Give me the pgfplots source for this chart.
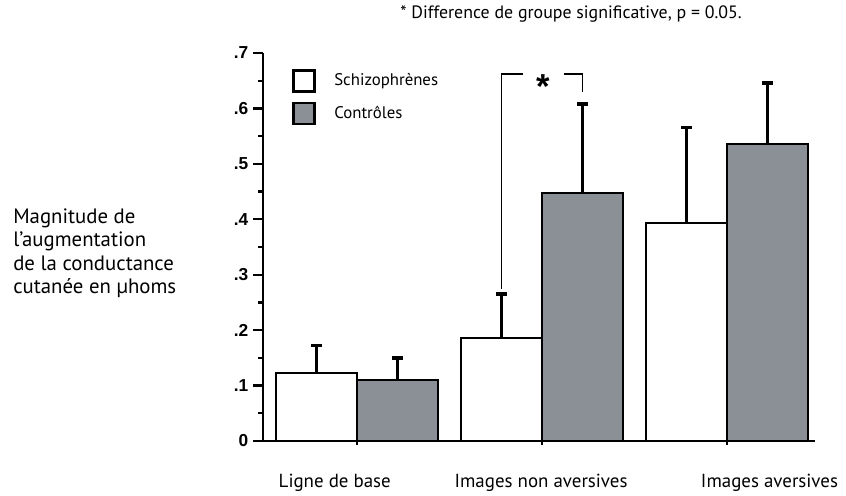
\documentclass[border=0pt]{standalone}
\usepackage{pgfplots}
\pgfplotsset{compat=1.18}
\usepackage{fontspec}
\setmainfont{PT Sans}
\newfontfamily\tickfont{Liberation Sans}
\definecolor{bargray}{RGB}{139,144,151}
\def\u{0.75pt}

\begin{document}
\begin{tikzpicture}
\path[use as bounding box] (0,0) rectangle ({846*\u},{-496*\u});

\begin{axis}[
    at={({263*\u},{-441*\u})}, anchor=south west,
    scale only axis, width={552*\u}, height={388*\u},
    xmin=-0.508, xmax=2.476, ymin=0, ymax=0.7,
    axis lines=left, axis line style={-, line width=2.2pt},
    clip=false,
    xtick={0,1,2}, xticklabels={},
    xtick style={/pgfplots/major tick length=3pt},
    ytick={0,0.1,0.2,0.3,0.4,0.5,0.6,0.7},
    yticklabels={0,.1,.2,.3,.4,.5,.6,.7},
    minor ytick={0.05,0.15,0.25,0.35,0.45,0.55,0.65},
    tick align=outside,
    major tick length={10*\u}, minor tick length={5*\u},
    tick style={black, line width=1.8pt},
    yticklabel style={font=\tickfont\bfseries\fontsize{13}{13}\selectfont},
    legend style={at={(0.0525,0.959)}, anchor=north west, draw=none, fill=none,
        inner sep=0pt, row sep=6.75pt, column sep=14pt,
        nodes={inner sep=0pt}, font=\fontsize{12.6}{12.6}\selectfont},
    legend cell align=left,
    legend image code/.code={\draw[#1, line width=1.8pt] (0pt,-7.9pt) rectangle (15.75pt,7.9pt);},
    error bars/error bar style={line width=1.8pt, black},
    error bars/error mark options={rotate=90, line width=2.6pt, mark size=4pt, black},
]

% blanc : schizophrenes, gris : controles
\addplot[ybar, bar width=0.438, bar shift=0pt, fill=white, draw=black, line width=1.6pt,
    error bars/.cd, y dir=plus, y explicit]
    coordinates {(-0.219,0.123) +- (0,0.049) (0.781,0.186) +- (0,0.079) (1.781,0.394) +- (0,0.172)};
\addlegendentry{Schizophrènes}
\addplot[ybar, bar width=0.438, bar shift=0pt, fill=bargray, draw=black, line width=1.6pt,
    error bars/.cd, y dir=plus, y explicit]
    coordinates {(0.219,0.110) +- (0,0.040) (1.219,0.447) +- (0,0.161) (2.219,0.536) +- (0,0.110)};
\addlegendentry{Contrôles}

% accolade de significativite
\draw[line width=1pt] (axis cs:0.781,0.275) -- (axis cs:0.781,0.662) -- (axis cs:0.897,0.662);
\draw[line width=1pt] (axis cs:1.119,0.662) -- (axis cs:1.219,0.662) -- (axis cs:1.219,0.630);
\node[font=\tickfont\bfseries\fontsize{26}{26}\selectfont, anchor=center] at (axis cs:1.005,0.640) {*};

\node[anchor=base, font=\fontsize{14.2}{14.2}\selectfont] at (axis cs:-0.12,-0.083) {Ligne de base};
\node[anchor=base, font=\fontsize{14.2}{14.2}\selectfont] at (axis cs:0.995,-0.083) {Images non aversives};
\node[anchor=base, font=\fontsize{14.2}{14.2}\selectfont] at (axis cs:2.23,-0.083) {Images aversives};
\end{axis}

\node[anchor=base, font=\fontsize{13.4}{13.4}\selectfont] at ({571*\u},{-18*\u}) {* Difference de groupe significative, p = 0.05.};
\begin{scope}[every node/.style={anchor=base west, inner sep=0pt, font=\fontsize{15.6}{15.6}\selectfont}]
\node at ({13*\u},{-223*\u}) {Magnitude de};
\node at ({13*\u},{-246.5*\u}) {l’augmentation};
\node at ({13*\u},{-270*\u}) {de la conductance};
\node at ({13*\u},{-293.5*\u}) {cutanée en µhoms};
\end{scope}
\end{tikzpicture}
\end{document}
